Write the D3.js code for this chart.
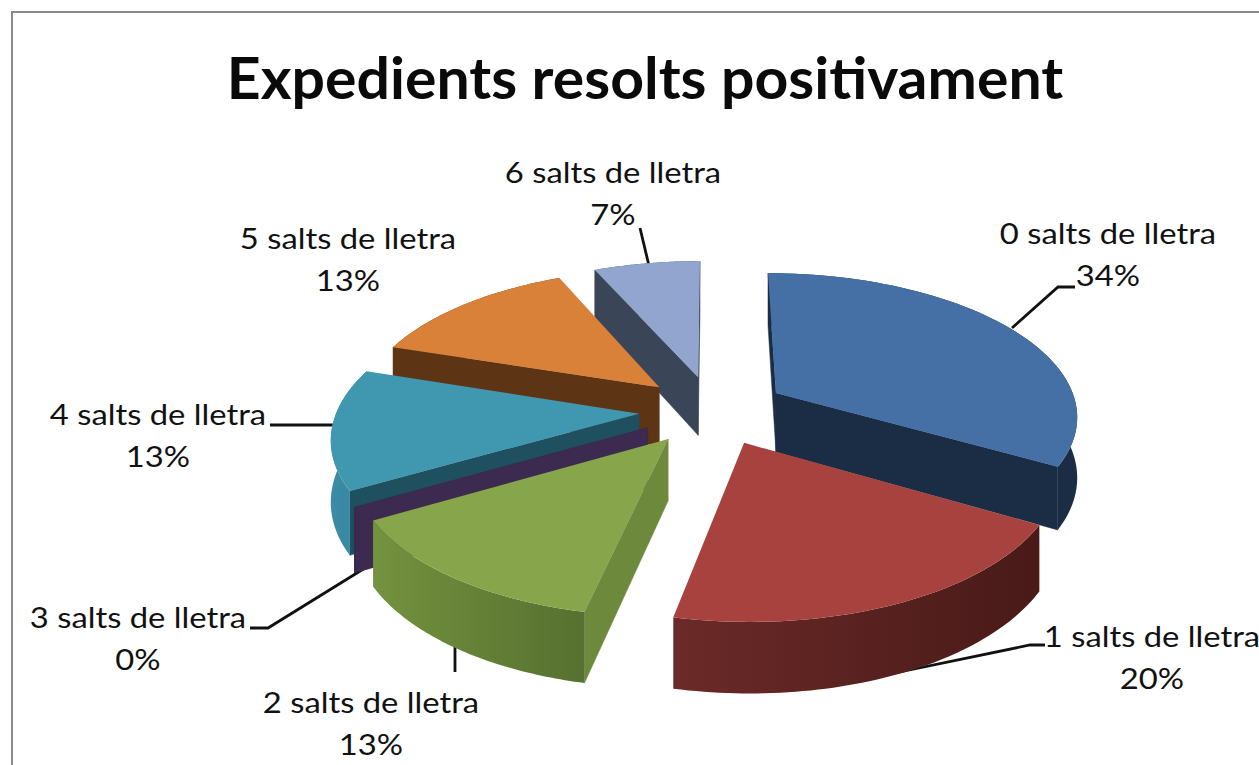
<!DOCTYPE html>
<html><head><meta charset="utf-8">
<script src="https://cdn.jsdelivr.net/npm/d3@7/dist/d3.min.js"></script>
<style>html,body{margin:0;padding:0;background:#fff;overflow:hidden}svg{display:block}text{font-family:Lato,"Open Sans",sans-serif;fill:#111}</style>
</head><body><svg id="c" width="1259" height="765"></svg>
<script>
const titleText = "Expedients resolts positivament";
const categories = ["0 salts de lletra","1 salts de lletra","2 salts de lletra","3 salts de lletra","4 salts de lletra","5 salts de lletra","6 salts de lletra"];
const percentLabels = [34,20,13,0,13,13,7];
const counts = [5,3,2,0,2,2,1];
const topColors = ["#4470a6","#a8423f","#87a54b","#6f5690","#4097b0","#d98138","#91a5cf"];
const rimFrom = ["#1a2d45","#6b2a28","#74923f","#3f2e5c","#3c8ca6","#5d3514","#3a4658"];
const rimTo   = ["#1a2d45","#481a18","#56702f","#3f2e5c","#3585a0","#5d3514","#3a4658"];
const wallColors = ["#1a2d45","#5a2220","#6d8a3c","#3c2a50","#1e5060","#5d3514","#3a4658"];
const drawOrder = [6,5,0,4,3,2,1];
const labelX = [1108,1152,371,138,158,348,613];
const labelY = [244,647,713,628,425,249,183];
const leaders = [[[1012,328],[1058,287],[1075,287]],[[880,676],[1030,645],[1045,645]],[[455,640],[455,672]],[[365,568],[268,628],[250,628]],[[335,425],[270,425]],[],[[650,270],[640,228]]];

const cx=713, cy=410, Rx=302, Ry=142, K=0.147, H=60, explode=0.245, textStretch=1.13, titleStretch=1.035;
const svg=d3.select("#c");
svg.append("path").attr("d",d3.line()([[1259,12],[12,12],[12,765]])).attr("fill","none").attr("stroke","#8a8a8a").attr("stroke-width",2);
svg.append("text").attr("transform",`translate(645,99) scale(${titleStretch},1)`).attr("text-anchor","middle").attr("font-size",57).attr("font-weight",700).style("fill","#0a0a0a").text(titleText);

const pie=d3.pie().sort(null).value(d=>d)(counts);
function proj(X,Y,Z){const p=1/(1-K*Y);return [cx+Rx*X*p, cy+Ry*Y*p+H*Z*(1/(1-K*Y*0.9))];}
const defs=svg.append("defs");
const line=d3.line();
leaders.forEach(l=>{ if(l.length) svg.append("path").attr("d",line(l)).attr("fill","none").attr("stroke","#111").attr("stroke-width",2.8); });
const pg=svg.append("g");
drawOrder.forEach(i=>{
  const s=pie[i], a0=s.startAngle, a1=s.endAngle, mid=(a0+a1)/2;
  const ox=explode*Math.sin(mid), oy=-explode*Math.cos(mid);
  const pt=(a,r,z)=>proj(ox+r*Math.sin(a),oy-r*Math.cos(a),z);
  const angles=d3.range(0,61).map(t=>a0+(a1-a0)*t/60);
  const top=angles.map(a=>pt(a,1,0)), bot=angles.map(a=>pt(a,1,1));
  const A=pt(a0,0,0), Ab=pt(a0,0,1);
  const g=pg.append("g");
  const grad=defs.append("linearGradient").attr("id","r"+i);
  grad.append("stop").attr("offset","0").attr("stop-color",rimFrom[i]);
  grad.append("stop").attr("offset","1").attr("stop-color",rimTo[i]);
  const M=pt(mid,1,0);
  [a0,a1].forEach(a=>{
    const P=pt(a,1,0), Pb=pt(a,1,1);
    const ex=P[0]-A[0], ey=P[1]-A[1];
    const side=ex*(M[1]-A[1])-ey*(M[0]-A[0]);
    if(a1===a0 || side*ex<0){
      g.append("path").attr("d",line([A,P,Pb,Ab])+"Z").attr("fill",wallColors[i]).attr("stroke",wallColors[i]).attr("stroke-width",.5);
    }
  });
  if(a1>a0){
    g.append("path").attr("d",line(top.concat(bot.slice().reverse()))+"Z").attr("fill",`url(#r${i})`);
    g.append("path").attr("d",line([A].concat(top))+"Z").attr("fill",topColors[i]);
  } else {
    g.append("path").attr("d",line([pt(a0,1,0),pt(a0,1,1)])).attr("stroke",wallColors[i]).attr("stroke-width",1);
  }
});
categories.forEach((c,i)=>{
  svg.append("text").attr("transform",`translate(${labelX[i]},${labelY[i]}) scale(${textStretch},1)`).attr("text-anchor","middle").attr("font-size",29).text(c);
  svg.append("text").attr("transform",`translate(${labelX[i]},${labelY[i]+42}) scale(${textStretch},1)`).attr("text-anchor","middle").attr("font-size",29).text(percentLabels[i]+"%");
});
</script></body></html>
